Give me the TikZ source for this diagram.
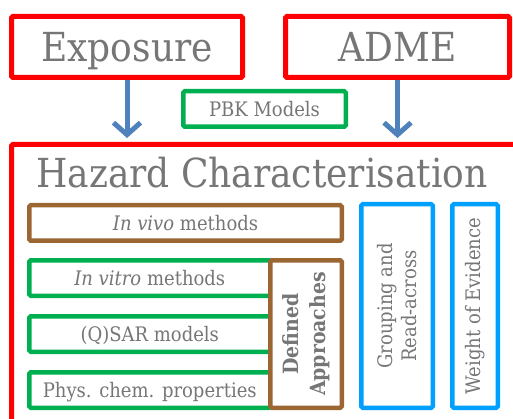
\documentclass[tikz,border=0pt]{standalone}
\usepackage{fontspec}
\setmainfont{DejaVu Serif}[FakeStretch=0.9]
\usetikzlibrary{arrows.meta}
\definecolor{alarm}{RGB}{255,0,0}
\definecolor{leaf}{RGB}{0,176,80}
\definecolor{bark}{RGB}{156,102,51}
\definecolor{sky}{RGB}{0,160,255}
\definecolor{flow}{RGB}{79,129,189}
\definecolor{ink}{RGB}{118,118,118}
\begin{document}
\begin{tikzpicture}[x=1pt,y=-1pt,
  box/.style={draw, fill=white, rounded corners=1.5pt, inner sep=0pt, text=ink, align=center},
  redbox/.style={box, draw=alarm, line width=5pt},
  greenbox/.style={box, draw=leaf, line width=4.5pt},
  brownbox/.style={box, draw=bark, line width=4.5pt},
  bluebox/.style={box, draw=sky, line width=4.5pt},
  bigtext/.style={font=\fontsize{40}{44}\selectfont, text height=29.2pt, text depth=0pt},
  smalltext/.style={font=\fontsize{20}{24}\selectfont},
  smallline/.style={smalltext, text height=14.6pt, text depth=0pt},
  flowarrow/.style={draw=flow, line width=5pt, -{Straight Barb[length=12pt,width=27pt]}}
]
\useasboundingbox (0,0) rectangle (513,419);
\clip (0,0) rectangle (513,419);

% top row
\node[redbox, bigtext, minimum width=231pt, minimum height=61pt] (exp) at (127,47) {Exposure};
\node[redbox, bigtext, minimum width=224pt, minimum height=61pt] (adme) at (397.5,47) {ADME};
\node[greenbox, smallline, minimum width=162.5pt, minimum height=35.5pt] (pbk) at (264.5,109) {PBK Models};

% frame of the hazard block, running past the page edges
\coordinate (hzNW) at (11.5,144.5);
\coordinate (hzSE) at (540,450);
\draw[alarm, line width=5pt, rounded corners=1.5pt] (hzNW) rectangle (hzSE);
\node[anchor=base west, text=ink, bigtext, inner sep=0pt] (hz) at (36,188) {Hazard Characterisation};

% arrows into the hazard block
\coordinate (expIn) at (exp.south |- 0,138);
\coordinate (admeIn) at (adme.south |- 0,138);
\draw[flowarrow] (exp.south) -- (expIn);
\draw[flowarrow] (adme.south) -- (admeIn);

% methods
\node[brownbox, smallline, minimum width=312.5pt, minimum height=35.5pt] (vivo) at (185.5,223) {\textit{In vivo} methods};
\node[greenbox, smallline, minimum width=241pt, minimum height=35.5pt] (vitro) at (149.75,278) {\textit{In vitro} methods};
\node[greenbox, smallline, minimum width=241pt, minimum height=35.5pt] (qsar) at (149.75,334) {(Q)SAR models};
\node[greenbox, smallline, minimum width=241pt, minimum height=35.5pt] (phys) at (149.75,390) {Phys. chem. properties};
\node[brownbox, rotate=90, minimum width=147.5pt, minimum height=71.5pt, font=\fontsize{21}{27}\selectfont\bfseries] (da) at (306,334) {Defined\\Approaches};

% integration approaches
\node[bluebox, smalltext, rotate=90, minimum width=203.5pt, minimum height=71.5pt] (gra) at (397,306) {Grouping and\\Read-across};
\node[bluebox, smalltext, rotate=90, minimum width=203.5pt, minimum height=45.5pt] (woe) at (475,306) {Weight of Evidence};
\end{tikzpicture}
\end{document}
